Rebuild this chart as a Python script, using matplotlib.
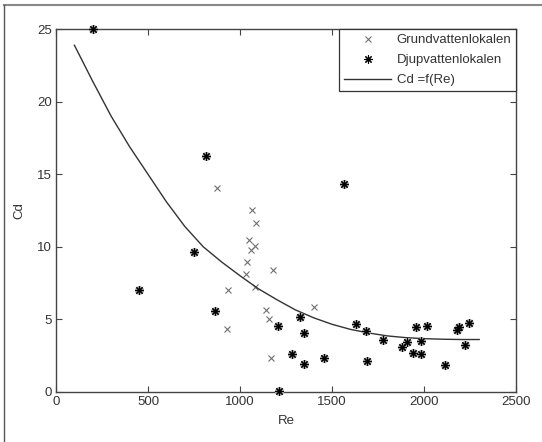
import matplotlib
matplotlib.use('Agg')
import matplotlib.pyplot as plt
from matplotlib.lines import Line2D

plt.rcParams['font.family'] = ['Liberation Sans', 'DejaVu Sans']
plt.rcParams['font.size'] = 9.5

# Grundvattenlokalen (x markers)
re_grund = [873, 1067, 1085, 1051, 1080, 1062, 1038, 1178, 1033, 937, 1080, 1402, 1143, 1156, 931, 1167]
cd_grund = [14.07, 12.51, 11.66, 10.49, 10.03, 9.78, 8.93, 8.42, 8.14, 7.02, 7.2, 5.86, 5.64, 4.99, 4.35, 2.35]

# Djupvattenlokalen (star markers)
re_djup = [201, 813, 1565, 750, 450, 864, 1207, 1326, 1346, 1283, 1346, 1458, 1210, 1632, 1683,
           1692, 1775, 1879, 1907, 1938, 1959, 2018, 1982, 1982, 2114, 2178, 2190, 2246, 2223]
cd_djup = [25.0, 16.26, 14.35, 9.66, 7.01, 5.57, 4.55, 5.13, 4.03, 2.58, 1.91, 2.35, 0.03, 4.65, 4.19,
           2.14, 3.54, 3.08, 3.40, 2.67, 4.48, 4.55, 3.48, 2.60, 1.84, 4.26, 4.48, 4.76, 3.22]

# Cd = f(Re) curve
re_fit = [100, 200, 300, 400, 500, 600, 700, 800, 900, 1000, 1100, 1200, 1300, 1400, 1500,
          1600, 1700, 1800, 1900, 2000, 2100, 2200, 2300]
cd_fit = [23.9, 21.4, 19.0, 16.9, 15.0, 13.1, 11.4, 10.0, 8.95, 8.0, 7.1, 6.35, 5.65, 5.1, 4.65,
          4.3, 4.05, 3.85, 3.73, 3.66, 3.62, 3.6, 3.6]

legend_labels = ['Grundvattenlokalen', 'Djupvattenlokalen', 'Cd =f(Re)']

fig = plt.figure(figsize=(5.42, 4.42), dpi=100)
fig.patch.set_facecolor('white')
ax = fig.add_axes([56 / 542, 1 - 391.7 / 442, 460 / 542, 362.4 / 442])

ax.plot(re_grund, cd_grund, linestyle='none', marker='x', markersize=4.5, markeredgewidth=0.8,
        color='#707070', label=legend_labels[0])
# soft grey halo behind the stars, like the blurred original
ax.plot(re_djup, cd_djup, linestyle='none', marker=(8, 2, 0), markersize=6.5, markeredgewidth=1.8,
        color='#b0b0b0', clip_on=False, zorder=3)
ax.plot(re_djup, cd_djup, linestyle='none', marker=(8, 2, 0), markersize=6, markeredgewidth=0.8,
        color='#000000', label=legend_labels[1], clip_on=False, zorder=4)
ax.plot(re_fit, cd_fit, color='#333333', linewidth=1.0, label=legend_labels[2])

ax.set_xlim(0, 2500)
ax.set_ylim(0, 25)
ax.set_xticks([0, 500, 1000, 1500, 2000, 2500])
ax.set_yticks([0, 5, 10, 15, 20, 25])
ax.tick_params(direction='in', length=4, width=0.8, top=True, right=True, colors='#444444',
               labelcolor='#333333', pad=3)
for s in ax.spines.values():
    s.set_color('#444444')
    s.set_linewidth(1.0)

ax.set_xlabel('Re', color='#333333', labelpad=5)
ax.set_ylabel('Cd', color='#333333', labelpad=8)

leg = ax.legend(loc='upper right', bbox_to_anchor=(1, 1), borderaxespad=0, fancybox=False,
                framealpha=1, edgecolor='#333333', handlelength=3.6, handletextpad=0.4,
                borderpad=0.35, labelspacing=0.6, numpoints=1)
leg.get_frame().set_linewidth(0.9)
for t in leg.get_texts():
    t.set_color('#333333')

# outer frame (top and left edges visible in the reference)
fig.add_artist(Line2D([4 / 542, 1], [1 - 4.7 / 442, 1 - 4.7 / 442], color='#888888', linewidth=1.5))
fig.add_artist(Line2D([4 / 542, 4 / 542], [0, 1 - 4.7 / 442], color='#555555', linewidth=1.0))

fig.savefig('out.png', dpi=100, facecolor='white')
